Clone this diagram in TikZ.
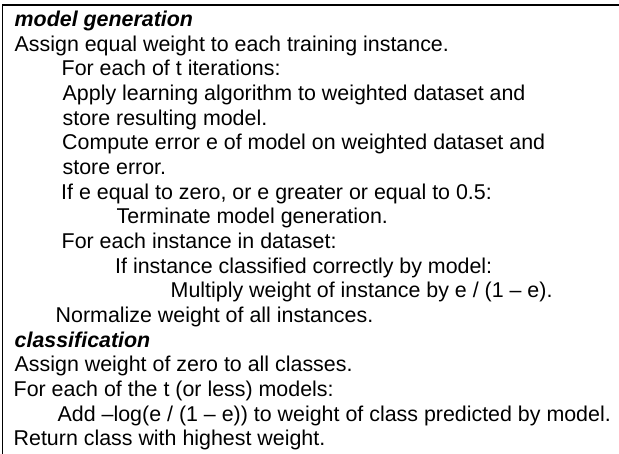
\documentclass[tikz,border=0pt]{standalone}
\usepackage{fontspec}
\setmainfont{Liberation Sans}
\tikzset{
  txt/.style={anchor=base west,inner sep=0pt,font=\fontsize{21.4}{24.65}\selectfont},
  head/.style={txt,font=\fontsize{21.4}{24.65}\selectfont\bfseries\itshape},
  frame/.style={line width=1.4pt}
}
\begin{document}
\begin{tikzpicture}[x=1pt,y=-1pt]
    \useasboundingbox (0,0) rectangle (619,454);
    % frame: top and left only
    \coordinate (tl) at (2.6,5);
    \coordinate (tr) at (619,5);
    \coordinate (bl) at (2.6,454);
    \draw[frame] (tr) -- (tl) -- (bl);
    % model generation
    \node[head] (g0) at (14.5,26.7) {model generation};
    \node[txt] (g1) at (14.5,51.35) {Assign equal weight to each training instance.};
    \node[txt] (g2) at (61.5,76) {For each of t iterations:};
    \node[txt] (g3) at (62.5,100.65) {Apply learning algorithm to weighted dataset and};
    \node[txt] (g4) at (62.5,125.3) {store resulting model.};
    \node[txt] (g5) at (62,149.95) {Compute error e of model on weighted dataset and};
    \node[txt] (g6) at (62.5,174.6) {store error.};
    \node[txt] (g7) at (61,199.25) {If e equal to zero, or e greater or equal to 0.5:};
    \node[txt] (g8) at (116.5,223.9) {Terminate model generation.};
    \node[txt] (g9) at (61.5,248.55) {For each instance in dataset:};
    \node[txt] (g10) at (115,273.2) {If instance classified correctly by model:};
    \node[txt] (g11) at (170.5,297.85) {Multiply weight of instance by e / (1 – e).};
    \node[txt] (g12) at (55.5,322.5) {Normalize weight of all instances.};
    % classification
    \node[head] (c0) at (14.5,347.15) {classification};
    \node[txt] (c1) at (14.5,371.8) {Assign weight of zero to all classes.};
    \node[txt] (c2) at (13.5,396.45) {For each of the t (or less) models:};
    \node[txt] (c3) at (57.5,421.1) {Add –log(e / (1 – e)) to weight of class predicted by model.};
    \node[txt] (c4) at (13.5,445.75) {Return class with highest weight.};
\end{tikzpicture}
\end{document}
